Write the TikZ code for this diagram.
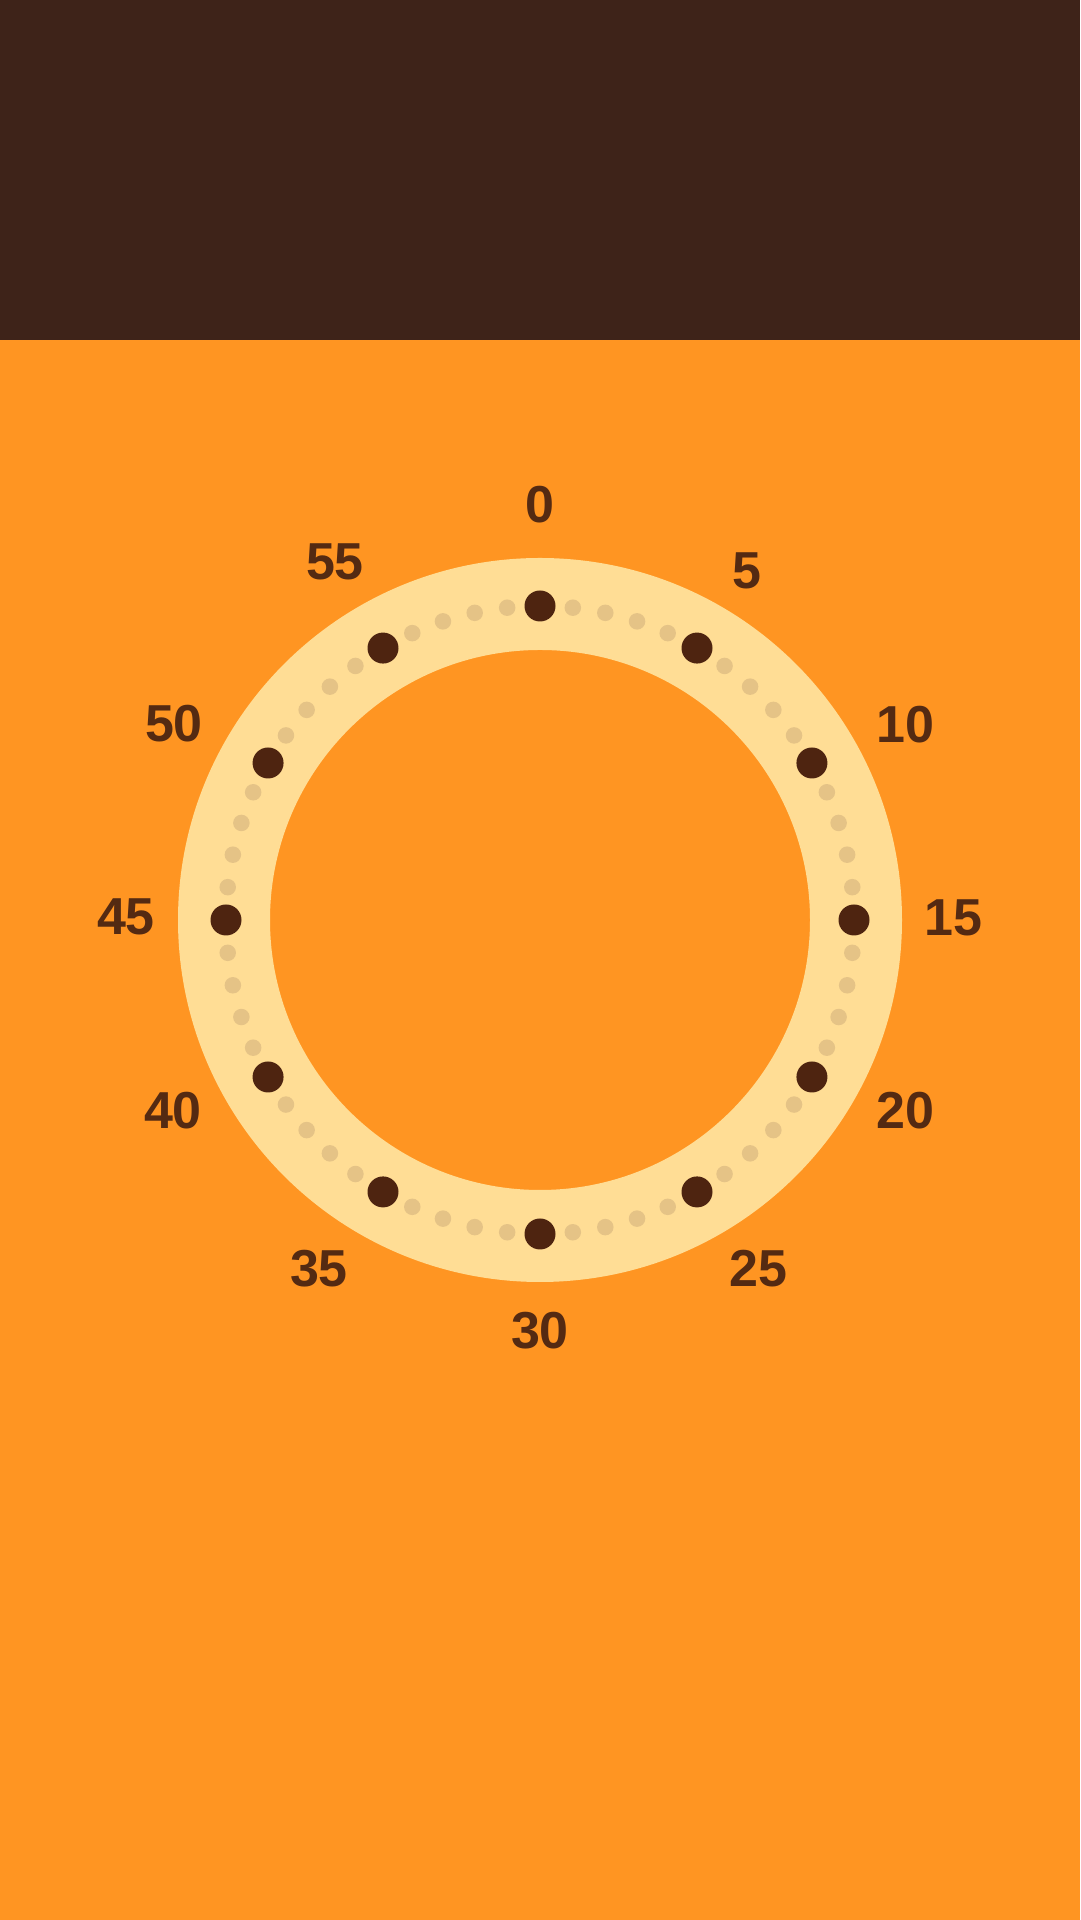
\documentclass[tikz,border=0pt]{standalone}
\usepackage{fontspec}
\setmainfont{Liberation Sans}
\usepackage{xcolor}
\usetikzlibrary{calc}
\definecolor{bandbrown}{HTML}{3E2319}
\definecolor{bgorange}{HTML}{FF9522}
\definecolor{ringcream}{HTML}{FFDD95}
\definecolor{tickdot}{HTML}{E5C386}
\definecolor{markdot}{HTML}{4E2410}
\definecolor{numbrown}{HTML}{542A12}

\begin{document}
\begin{tikzpicture}[
  x=1pt, y=1pt,
  bigdot/.style={circle, fill=markdot, minimum size=31pt, inner sep=0pt},
  smalldot/.style={circle, fill=tickdot, minimum size=16.5pt, inner sep=0pt},
  minlabel/.style={font=\fontsize{52}{52}\selectfont\bfseries, text=numbrown, inner sep=0pt},
]

% Background and top band
\fill[bgorange] (0,0) rectangle (1080,1920);
\fill[bandbrown] (0,1580) rectangle (1080,1920);
\useasboundingbox (0,0) rectangle (1080,1920);

% Ring
\coordinate (dial) at (540,1000);
\fill[ringcream, even odd rule] (dial) circle (362) (dial) circle (270);

% Minute dots
\foreach \m in {0,...,59}{
  \pgfmathtruncatemacro{\r}{mod(\m,5)}
  \ifnum\r=0
    \node[bigdot] (dot\m) at ($(dial)+({90-6*\m}:314)$) {};
  \else
    \node[smalldot] (dot\m) at ($(dial)+({90-6*\m}:314)$) {};
  \fi
}

% Minute labels
\foreach \m/\lx/\ly in {0/540/1415, 5/747/1349, 10/905/1195, 15/953/1002.5,
                        20/905/809.5, 25/758/651.7, 30/540/589.5, 35/319/651.7,
                        40/173/809, 45/126/1003, 50/174/1196, 55/335/1358}{
  \node[minlabel] (lab\m) at (\lx,\ly) {\m};
}

\end{tikzpicture}
\end{document}
